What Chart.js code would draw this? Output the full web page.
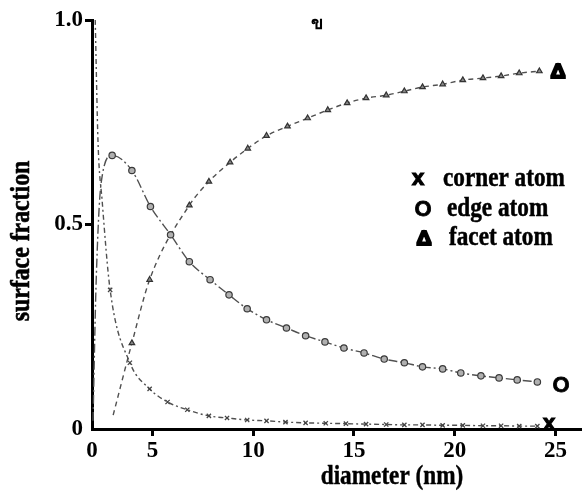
<!DOCTYPE html>
<html><head><meta charset="utf-8">
<script src="https://cdn.jsdelivr.net/npm/chart.js@4"></script>
<style>html,body{margin:0;padding:0;background:#fff;overflow:hidden}</style>
</head><body>
<canvas id="c" width="587" height="496"></canvas>
<script>
// ---- data ----
const cornerDiameter = [2.16, 2.3, 2.5, 2.9, 3.88, 4.86, 5.75, 6.73, 7.8, 8.7, 9.7, 10.66, 11.6, 12.6, 13.6, 14.6, 15.6, 16.6, 17.5, 18.4, 19.4, 20.4, 21.4, 22.3, 23.2, 24.1];
const cornerFraction = [1.0, 0.70, 0.56, 0.34, 0.162, 0.098, 0.066, 0.047, 0.032, 0.027, 0.022, 0.020, 0.017, 0.015, 0.014, 0.013, 0.012, 0.011, 0.010, 0.010, 0.009, 0.009, 0.008, 0.008, 0.007, 0.007];
const cornerLeadIn = 3; // leading points drawn without a marker

const edgeDiameter = [2.05, 2.2, 2.45, 3.0, 3.98, 4.9, 5.9, 6.83, 7.86, 8.8, 9.7, 10.66, 11.65, 12.6, 13.56, 14.5, 15.5, 16.5, 17.5, 18.4, 19.4, 20.3, 21.3, 22.2, 23.1, 24.1];
const edgeFraction = [0.02, 0.35, 0.60, 0.669, 0.632, 0.544, 0.475, 0.409, 0.365, 0.328, 0.294, 0.267, 0.247, 0.228, 0.213, 0.198, 0.186, 0.171, 0.162, 0.152, 0.147, 0.137, 0.130, 0.125, 0.120, 0.115];
const edgeLeadIn = 3;

const facetDiameter = [3.05, 3.98, 4.86, 6.83, 7.8, 8.85, 9.73, 10.66, 11.7, 12.7, 13.7, 14.66, 15.6, 16.6, 17.5, 18.4, 19.4, 20.4, 21.4, 22.3, 23.2, 24.2];
const facetFraction = [0.034, 0.21, 0.365, 0.547, 0.605, 0.652, 0.686, 0.717, 0.740, 0.760, 0.780, 0.797, 0.809, 0.816, 0.826, 0.836, 0.843, 0.853, 0.858, 0.863, 0.870, 0.875];
const facetLeadIn = 1;

const diameterTicks = [2, 5, 10, 15, 20, 25];
const diameterTickLabels = ['0', '5', '10', '15', '20', '25'];
const fractionTicks = [0, 0.5, 1.0];
const fractionTickLabels = ['0', '0.5', '1.0'];

const seriesNames = ['corner atom', 'edge atom', 'facet atom'];
const seriesSymbols = ['x', 'O', 'Δ'];
const xTitle = 'diameter (nm)';
const yTitle = 'surface fraction';
const strayGlyph = 'ข';

// ---- chart ----
function pts(xs, ys) { return xs.map((x, i) => ({ x: x, y: ys[i] })); }
function radii(n, lead, r) { return Array.from({ length: n }, (_, i) => i < lead ? 0 : r); }

const serif = '"Liberation Serif", "Times New Roman", serif';
const sans = '"Liberation Sans", Arial, sans-serif';

const textPlugin = {
  id: 'texts',
  afterDraw(chart) {
    const ctx = chart.ctx;
    ctx.save();
    ctx.fillStyle = '#000';
    ctx.strokeStyle = '#000';
    function cond(txt, x, y, font, align, base, sx, rot, stroke) {
      ctx.save();
      ctx.translate(x, y);
      if (rot) ctx.rotate(rot);
      ctx.scale(sx, 1);
      ctx.font = font;
      ctx.textAlign = align;
      ctx.textBaseline = base;
      ctx.fillText(txt, 0, 0);
      if (stroke) { ctx.lineWidth = stroke; ctx.lineJoin = 'miter'; ctx.strokeText(txt, 0, 0); }
      ctx.restore();
    }
    // axis titles
    cond(yTitle, 22, 241, 'bold 28px ' + serif, 'center', 'middle', 0.85, -Math.PI / 2, 0.6);
    cond(xTitle, 392, 484, 'bold 27px ' + serif, 'center', 'alphabetic', 0.86, 0, 0.4);
    // legend
    const legY = [186, 216, 245];
    const legX = [443, 447, 449];
    const symX = [418, 423, 424];
    const symFont = ['bold 22px ' + sans, 'bold 22px ' + sans, 'bold 21px ' + sans];
    const symStroke = [1.2, 0.8, 2.2];
    for (let i = 0; i < 3; i++) {
      cond(seriesSymbols[i], symX[i], legY[i] - (i === 0 ? 1 : 0), symFont[i], 'center', 'alphabetic', 1, 0, symStroke[i]);
      cond(seriesNames[i], legX[i], legY[i], 'bold 27px ' + serif, 'left', 'alphabetic', 0.86, 0, 0.5);
    }
    // end-of-curve labels
    cond(seriesSymbols[2], 558, 78, 'bold 21px ' + sans, 'center', 'alphabetic', 1, 0, 2.2);
    cond(seriesSymbols[1], 561, 392, 'bold 22px ' + sans, 'center', 'alphabetic', 1, 0, 0.8);
    cond(seriesSymbols[0], 549, 430, 'bold 22px ' + sans, 'center', 'alphabetic', 1, 0, 1.2);
    // stray glyph at top
    cond(strayGlyph, 317, 29, 'bold 18px "Noto Sans", "DejaVu Sans", sans-serif', 'center', 'alphabetic', 1, 0, 0);
    ctx.restore();
  }
};

const lineCol = '#505050';
new Chart(document.getElementById('c'), {
  type: 'line',
  data: {
    datasets: [
      {
        label: seriesNames[0], data: pts(cornerDiameter, cornerFraction),
        borderColor: lineCol, borderWidth: 1.4, borderDash: [5, 3, 2, 3],
        pointStyle: 'crossRot', pointRadius: radii(cornerDiameter.length, cornerLeadIn, 3),
        pointBorderColor: '#444', pointBorderWidth: 1.3, pointBackgroundColor: '#999',
        cubicInterpolationMode: 'monotone', fill: false
      },
      {
        label: seriesNames[1], data: pts(edgeDiameter, edgeFraction),
        borderColor: lineCol, borderWidth: 1.4, borderDash: [9, 3, 2, 3],
        pointStyle: 'circle', pointRadius: radii(edgeDiameter.length, edgeLeadIn, 3.2),
        pointBorderColor: '#3a3a3a', pointBorderWidth: 1.2, pointBackgroundColor: '#b0b0b0',
        cubicInterpolationMode: 'monotone', fill: false
      },
      {
        label: seriesNames[2], data: pts(facetDiameter, facetFraction),
        borderColor: lineCol, borderWidth: 1.4, borderDash: [5, 4],
        pointStyle: 'triangle', pointRadius: radii(facetDiameter.length, facetLeadIn, 3.2),
        pointBorderColor: '#333', pointBorderWidth: 1.2, pointBackgroundColor: '#888',
        cubicInterpolationMode: 'monotone', fill: false
      }
    ]
  },
  options: {
    responsive: false,
    devicePixelRatio: 1,
    animation: false,
    layout: { padding: { top: 20, right: 0, left: 0, bottom: 0 } },
    plugins: { legend: { display: false }, tooltip: { enabled: false } },
    scales: {
      x: {
        type: 'linear', min: 2.0, max: 26.3,
        afterBuildTicks: s => { s.ticks = diameterTicks.map(v => ({ value: v })); },
        afterFit: s => { s.height = 67; },
        ticks: {
          callback: (v, i) => diameterTickLabels[i],
          font: { family: serif, size: 23, weight: 'bold' }, color: '#000',
          maxRotation: 0, autoSkip: false, padding: 1
        },
        grid: {
          drawOnChartArea: false, tickLength: 7, tickWidth: 3,
          color: c => (c.index === 0 ? 'rgba(0,0,0,0)' : '#000')
        },
        border: { color: '#000', width: 3 }
      },
      y: {
        type: 'linear', min: 0, max: 1.0,
        afterBuildTicks: s => { s.ticks = fractionTicks.map(v => ({ value: v })); },
        afterFit: s => { s.width = 92; },
        ticks: {
          callback: (v, i) => fractionTickLabels[i],
          font: { family: serif, size: 23, weight: 'bold' }, color: '#000',
          autoSkip: false, padding: 2
        },
        grid: {
          drawOnChartArea: false, tickLength: 7, tickWidth: 3,
          color: c => (c.index === 0 ? 'rgba(0,0,0,0)' : '#000')
        },
        border: { color: '#000', width: 3 }
      }
    }
  },
  plugins: [textPlugin]
});
</script>
</body></html>
